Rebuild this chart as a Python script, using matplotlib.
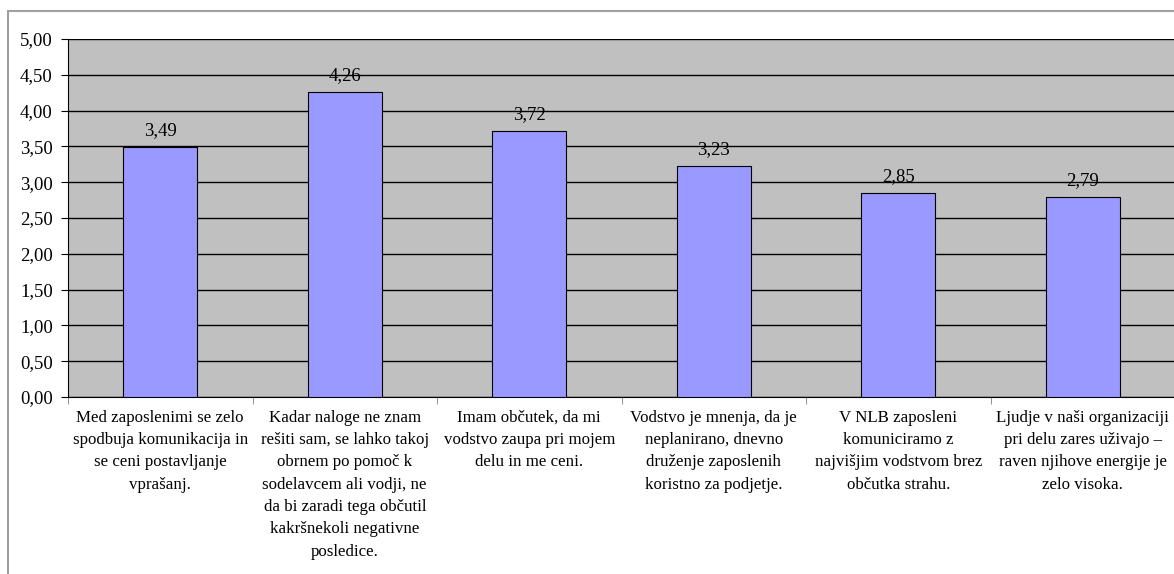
import matplotlib.pyplot as plt
import matplotlib.patches as patches
from matplotlib.ticker import FuncFormatter, MultipleLocator

plt.rcParams['font.family'] = ['Liberation Serif', 'DejaVu Serif']

# podatki
labels = [
    "Med zaposlenimi se zelo\nspodbuja komunikacija in\nse ceni postavljanje\nvprašanj.",
    "Kadar naloge ne znam\nrešiti sam, se lahko takoj\nobrnem po pomoč k\nsodelavcem ali vodji, ne\nda bi zaradi tega občutil\nkakršnekoli negativne\nposledice.",
    "Imam občutek, da mi\nvodstvo zaupa pri mojem\ndelu in me ceni.",
    "Vodstvo je mnenja, da je\nneplanirano, dnevno\ndruženje zaposlenih\nkoristno za podjetje.",
    "V NLB zaposleni\nkomuniciramo z\nnajvišjim vodstvom brez\nobčutka strahu.",
    "Ljudje v naši organizaciji\npri delu zares uživajo –\nraven njihove energije je\nzelo visoka.",
]
values = [3.49, 4.26, 3.72, 3.23, 2.85, 2.79]

W, H = 1174, 574
fig = plt.figure(figsize=(W / 100, H / 100), dpi=100)
ax = fig.add_axes([68 / W, (H - 397) / H, (1175 - 68) / W, (397 - 39) / H])

# okvir okoli grafa (odrezan desno in spodaj)
fig.patches.append(patches.Rectangle((8 / W, -0.1), 1.2, (H - 11) / H + 0.1,
                                     transform=fig.transFigure, fill=False,
                                     edgecolor='#A0A0A0', linewidth=1.5, clip_on=False))

ax.set_facecolor('#C0C0C0')
x = list(range(len(values)))
ax.bar(x, values, width=0.4, color='#9999FF', edgecolor='black', linewidth=0.8, zorder=3)

for xi, v in zip(x, values):
    ax.text(xi, v + 0.11, f"{v:.2f}".replace('.', ','), ha='center', va='bottom',
            fontsize=13.5, zorder=4)

ax.set_xlim(-0.5, len(values) - 0.5)
ax.set_ylim(0, 5)
ax.yaxis.set_major_locator(MultipleLocator(0.5))
ax.yaxis.set_major_formatter(FuncFormatter(lambda v, p: f"{v:.2f}".replace('.', ',')))
ax.grid(axis='y', color='black', linewidth=1, zorder=1)
ax.set_axisbelow(True)

# x oznake brez tick-ov, tick-i med kategorijami
ax.set_xticks(x)
ax.set_xticklabels(labels, fontsize=12.2, linespacing=1.53, va='top')
ax.tick_params(axis='x', length=0, pad=9)
ax.set_xticks([i - 0.5 for i in range(len(values) + 1)], minor=True)
ax.tick_params(axis='x', which='minor', length=5, color='#808080', direction='out')
ax.tick_params(axis='y', length=5, direction='out', labelsize=13.5, color='black', pad=6)

for s in ['top', 'right']:
    ax.spines[s].set_visible(False)
ax.spines['left'].set_color('black')
ax.spines['bottom'].set_color('black')

fig.savefig('out.png', dpi=100)
